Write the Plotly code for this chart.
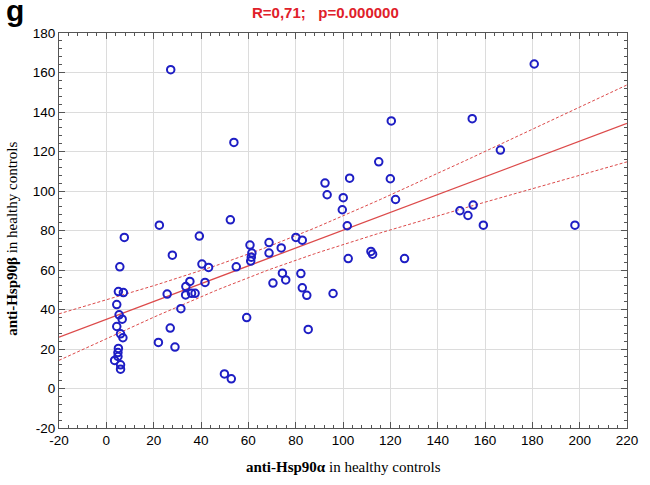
import numpy as np
import plotly.graph_objects as go

# anti-Hsp90 alpha (x) vs anti-Hsp90 beta (y), healthy controls
hsp90_alpha = [27.2, 53.9, 22.4, 7.6, 52.4, 39.3, 27.9, 5.7, 40.4, 43.2,
               54.9, 60.7, 68.75, 68.75, 61.5, 61.25, 61.0, 70.4, 35.3, 41.7,
               33.6, 5.1, 7.2, 25.7, 33.5, 36.0, 37.5, 4.4, 5.4, 6.7,
               4.4, 6.0, 7.0, 5.1, 4.9, 4.9, 3.5, 6.0, 6.0, 31.5,
               27.0, 22.0, 29.0, 59.3, 49.9, 52.8, 115.1, 92.4, 102.8, 120.0,
               93.3, 100.1, 122.2, 99.7, 101.8, 149.4, 80.1, 82.8, 73.9, 102.2,
               111.8, 112.5, 126.0, 74.4, 75.8, 82.2, 82.8, 84.7, 95.8, 85.3,
               180.8, 154.6, 166.5, 120.4, 155.0, 152.8, 159.3, 198.0]
hsp90_beta = [161.4, 124.6, 82.7, 76.5, 85.4, 77.2, 67.5, 61.6, 63.0, 61.3,
              61.6, 72.6, 73.9, 68.6, 68.6, 66.5, 64.5, 53.4, 54.2, 53.7,
              51.6, 49.1, 48.6, 47.8, 47.4, 48.2, 48.2, 42.5, 37.3, 35.1,
              31.4, 27.7, 25.7, 20.3, 18.2, 16.2, 14.2, 12.0, 9.8, 40.4,
              30.6, 23.3, 21.0, 35.9, 7.4, 4.9, 114.8, 104.0, 106.5, 106.2,
              98.1, 96.6, 95.7, 90.5, 82.4, 90.0, 76.5, 75.1, 71.2, 65.8,
              69.4, 68.0, 65.8, 58.4, 55.0, 58.2, 51.0, 47.2, 48.1, 29.9,
              164.3, 136.6, 120.7, 135.5, 92.9, 87.6, 82.7, 82.7]

x_ticks = [-20, 0, 20, 40, 60, 80, 100, 120, 140, 160, 180, 200, 220]
y_ticks = [-20, 0, 20, 40, 60, 80, 100, 120, 140, 160, 180]
x_ticktext = [str(v) for v in x_ticks]   # plain hyphen minus like the original
y_ticktext = [str(v) for v in y_ticks]

x = np.array(hsp90_alpha)
y = np.array(hsp90_beta)

# linear fit + 95% confidence band of the mean
n = len(x)
slope, intercept = np.polyfit(x, y, 1)
resid = y - (intercept + slope * x)
s = np.sqrt(np.sum(resid ** 2) / (n - 2))
t_val = 1.99
xs = np.linspace(-20, 220, 121)
fit = intercept + slope * xs
half = t_val * s * np.sqrt(1 / n + (xs - x.mean()) ** 2 / np.sum((x - x.mean()) ** 2))

red = "#dc4a4a"
fig = go.Figure()

fig.add_trace(go.Scatter(x=xs, y=fit + half, mode="lines",
                         line=dict(color=red, width=1, dash="3px,2px"), hoverinfo="skip"))
fig.add_trace(go.Scatter(x=xs, y=fit - half, mode="lines",
                         line=dict(color=red, width=1, dash="3px,2px"), hoverinfo="skip"))
fig.add_trace(go.Scatter(x=xs, y=fit, mode="lines",
                         line=dict(color=red, width=1.3), hoverinfo="skip"))

fig.add_trace(go.Scatter(
    x=x, y=y, mode="markers",
    marker=dict(symbol="circle-open", size=7.5, color="#1e1ec4", line=dict(width=2, color="#1e1ec4")),
))

axis_common = dict(
    showgrid=True, gridcolor="#dcdcdc", gridwidth=1,
    zeroline=False,
    showline=True, linecolor="#555555", linewidth=1, mirror="allticks",
    ticks="inside", ticklen=6, tickcolor="#555555",
    minor=dict(ticks="inside", dtick=4, ticklen=3, tickcolor="#555555", showgrid=False),
    tickfont=dict(family="Liberation Sans, Arial", size=13.5, color="black"),
)

fig.update_xaxes(range=[-20, 220], tickmode="array", tickvals=x_ticks, ticktext=x_ticktext, **axis_common)
fig.update_yaxes(range=[-20, 180], tickmode="array", tickvals=y_ticks, ticktext=y_ticktext, **axis_common)

fig.update_layout(
    width=650, height=485,
    margin=dict(l=59, r=15, t=33, b=57),
    plot_bgcolor="white", paper_bgcolor="white",
    showlegend=False,
)

# title, panel letter and axis titles
fig.add_annotation(text="<b>R=0,71;&nbsp;&nbsp;&nbsp;p=0.000000</b>", xref="paper", yref="paper",
                   x=0.47, y=1.0, yshift=21, xanchor="center", yanchor="middle", showarrow=False,
                   font=dict(family="Liberation Sans, Arial", size=15, color="#e0202a"))
fig.add_annotation(text="<b>g</b>", xref="paper", yref="paper",
                   x=-0.1, y=1.0, xshift=2, yshift=23, xanchor="left", yanchor="middle", showarrow=False,
                   font=dict(family="Liberation Sans, Arial", size=30, color="black"))
fig.add_annotation(text="<b>anti-Hsp90α</b> in healthy controls", xref="paper", yref="paper",
                   x=0.5, y=-0.098, xanchor="center", yanchor="middle", showarrow=False,
                   font=dict(family="Liberation Serif, Times New Roman", size=15, color="black"))
fig.add_annotation(text="<b>anti-Hsp90β</b> in healthy controls", xref="paper", yref="paper",
                   x=-0.082, y=0.48, xanchor="center", yanchor="middle", showarrow=False,
                   textangle=-90,
                   font=dict(family="Liberation Serif, Times New Roman", size=15, color="black"))

# drop the default page margin so the 650x485 figure fills the window
fig.write_html("out.html", config={"displayModeBar": False},
               post_script="document.body.style.margin='0';")
